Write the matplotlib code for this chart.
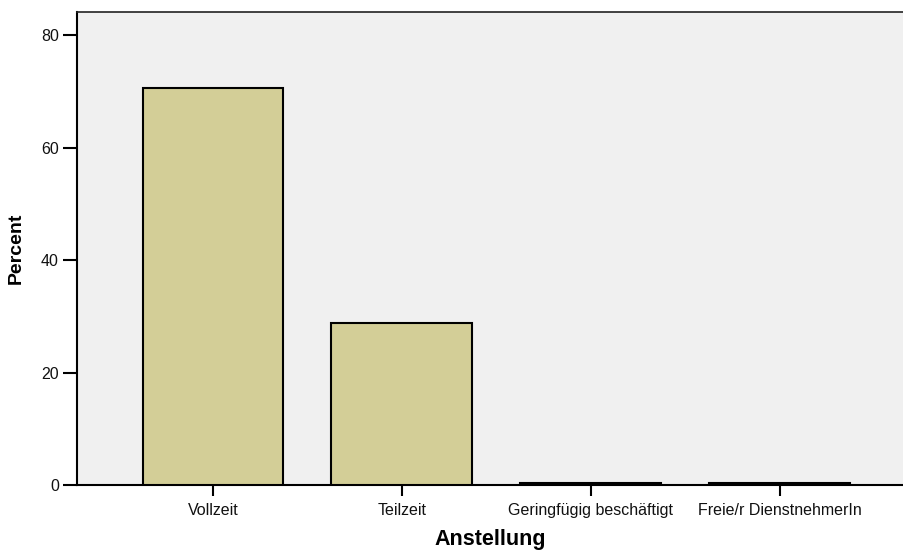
import matplotlib.pyplot as plt

# data
categories = ['Vollzeit', 'Teilzeit', 'Geringfügig beschäftigt', 'Freie/r DienstnehmerIn']
percent = [70.6, 28.8, 0.3, 0.3]
y_ticks = [0, 20, 40, 60, 80]

plt.rcParams['font.family'] = ['Liberation Sans', 'DejaVu Sans']

fig = plt.figure(figsize=(9.04, 5.51), dpi=100)
ax = fig.add_axes([0.0852, 0.1198, 0.915, 0.8584])
ax.set_facecolor('#F0F0F0')

x = range(len(categories))
ax.bar(x, percent, width=0.746, color='#D3CE97', edgecolor='black', linewidth=1.5, zorder=3)

ax.set_xlim(-0.72, 3.66)
ax.set_ylim(0, 84.1)
ax.set_xticks(list(x))
ax.set_xticklabels(categories, fontsize=11.5, color='#111111')
ax.set_yticks(y_ticks)
ax.set_yticklabels([str(v) for v in y_ticks], fontsize=11.5, color='#111111')
ax.tick_params(axis='y', length=10, width=1.5, pad=3)
ax.tick_params(axis='x', length=8, width=1.5, pad=5)

ax.spines['right'].set_visible(False)
ax.spines['left'].set_linewidth(1.5)
ax.spines['bottom'].set_linewidth(1.5)
ax.spines['top'].set_linewidth(1.2)
ax.spines['top'].set_color('#222222')

ax.set_xlabel('Anstellung', fontsize=15.5, fontweight='bold', labelpad=8)
ax.set_ylabel('Percent', fontsize=14, fontweight='bold', labelpad=12)

fig.savefig('out.png', dpi=100)
